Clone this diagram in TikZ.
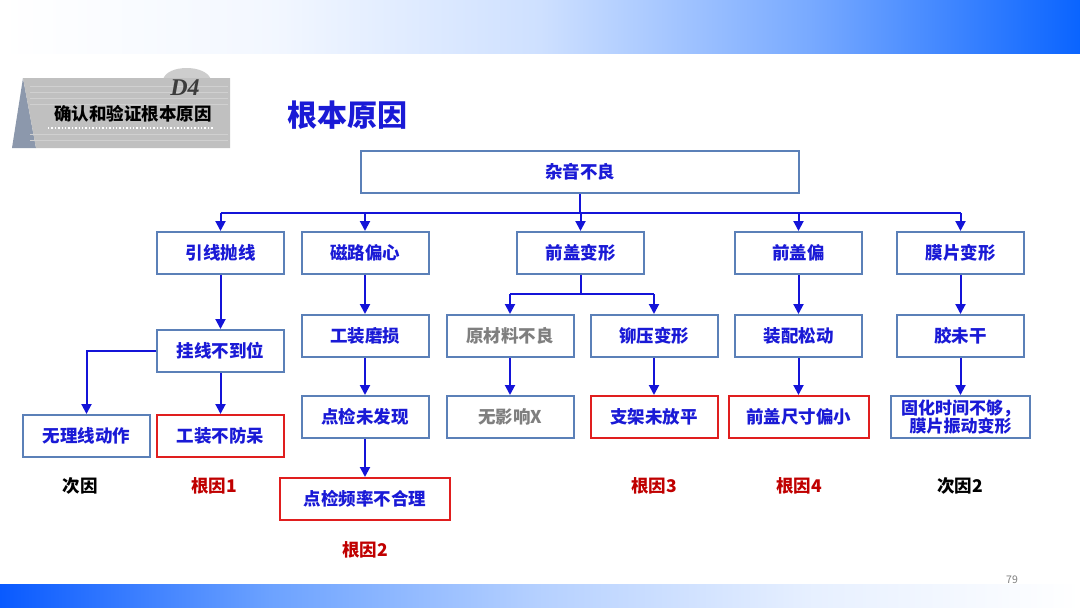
\documentclass[tikz,border=0pt]{standalone}
\usepackage{fontspec}
\setmainfont{Noto Sans CJK SC}
\newfontfamily\serifd{Liberation Serif}
\usetikzlibrary{arrows.meta}
\definecolor{boxb}{HTML}{5B80B8}
\definecolor{txtb}{HTML}{1A1AD6}
\definecolor{arrb}{HTML}{1414D8}
\definecolor{redb}{HTML}{E01E1E}
\definecolor{redl}{HTML}{C00000}
\definecolor{grayt}{HTML}{7F7F7F}
\definecolor{hdrblue}{HTML}{0A64FF}
\pgfdeclarehorizontalshading{hdr}{100bp}{color(0bp)=(white);color(25bp)=(white);color(37.5bp)=(white!95!hdrblue);color(50bp)=(white!80!hdrblue);color(62.5bp)=(white!45!hdrblue);color(75bp)=(hdrblue);color(100bp)=(hdrblue)}
\pgfdeclarehorizontalshading{ftr}{100bp}{color(0bp)=(hdrblue);color(25bp)=(hdrblue!90!blue);color(37.5bp)=(white!40!hdrblue);color(50bp)=(white!70!hdrblue);color(62.5bp)=(white!90!hdrblue);color(75bp)=(white);color(100bp)=(white)}
\tikzset{
  bx/.style={draw=boxb, line width=2pt, fill=white, minimum width=127pt, minimum height=42pt, inner sep=2pt, align=center, text=txtb, font=\bfseries\fontsize{17.5}{19}\selectfont},
  rbx/.style={bx, draw=redb},
  gbx/.style={bx, text=grayt},
  arr/.style={draw=arrb, line width=2pt, -{Triangle[length=10pt,width=10pt]}},
  ln/.style={draw=arrb, line width=2pt},
  lab/.style={font=\bfseries\fontsize{17.5}{19}\selectfont}
}
\begin{document}
\begin{tikzpicture}[x=1pt,y=-1pt]
\useasboundingbox (0,0) rectangle (1080,608);
\fill[white] (0,0) rectangle (1080,608);
% header and footer bars
\shade[shading=hdr] (0,0) rectangle (1080,53);
\shade[shading=ftr] (0,584) rectangle (1080,608);
\node[text=grayt, font=\fontsize{10.5}{12}\selectfont] (pg) at (1012,580) {79};
% D4 badge
\fill[color={rgb,255:red,140;green,152;blue,172}] (12,148) -- (23,78) -- (36,148) -- cycle;
\fill[color={rgb,255:red,205;green,205;blue,205}] (163,80) .. controls (166,64) and (207,64) .. (211,80) -- cycle;
\fill[color={rgb,255:red,192;green,192;blue,192}] (23,78) -- (230,78) -- (230,148) -- (36,148) -- cycle;
\foreach \yy in {86,92,98,104,134,140}{\draw[color={rgb,255:red,208;green,208;blue,208}, line width=0.8pt] (30,\yy) -- (228,\yy);}
\draw[white, line width=1.4pt, dotted] (48,128) -- (213,128);
\node[font=\serifd\bfseries\itshape\fontsize{24}{26}\selectfont, text={rgb,255:red,60;green,60;blue,60}] (d4) at (185,88) {D4};
\node[font=\bfseries\fontsize{17.5}{19}\selectfont] (bt) at (133,114) {确认和验证根本原因};
% title
\node[text=txtb, font=\bfseries\fontsize{30}{33}\selectfont] (title) at (347,115) {根本原因};
% boxes
\node[bx, minimum width=438pt] (top) at (580,172) {杂音不良};
\node[bx] (a1) at (220.5,253) {引线抛线};
\node[bx] (a2) at (365,253) {磁路偏心};
\node[bx] (a3) at (580.5,253) {前盖变形};
\node[bx] (a4) at (798.5,253) {前盖偏};
\node[bx] (a5) at (960.5,253) {膜片变形};
\node[bx] (b1) at (220.5,351) {挂线不到位};
\node[bx] (b2) at (365,336) {工装磨损};
\node[gbx] (b3) at (510,336) {原材料不良};
\node[bx] (b4) at (654,336) {铆压变形};
\node[bx] (b5) at (798.5,336) {装配松动};
\node[bx] (b6) at (960.5,336) {胶未干};
\node[bx] (c1) at (86.5,436) {无理线动作};
\node[rbx] (c2) at (220.5,436) {工装不防呆};
\node[bx] (c3) at (365,417) {点检未发现};
\node[gbx] (c4) at (510,417) {无影响X};
\node[rbx] (c5) at (654,417) {支架未放平};
\node[rbx, minimum width=140pt] (c6) at (798.5,417) {前盖尺寸偏小};
\node[bx, minimum width=139pt, font=\bfseries\fontsize{17}{18.5}\selectfont] (c7) at (960.5,417) {固化时间不够，\\膜片振动变形};
\node[rbx, minimum width=170pt] (d1) at (365,499) {点检频率不合理};
% labels
\node[lab] (l1) at (80,486) {次因};
\node[lab, text=redl] (l2) at (214,486) {根因1};
\node[lab, text=redl] (l3) at (654,486) {根因3};
\node[lab, text=redl] (l4) at (799,486) {根因4};
\node[lab] (l5) at (960,486) {次因2};
\node[lab, text=redl] (l6) at (365,550) {根因2};
% connectors
\coordinate (bus) at (580,213);
\draw[ln] (top.south) -- (top.south |- bus);
\draw[ln] (a1.north |- bus) -- (a5.north |- bus);
\foreach \n in {a1,a2,a3,a4,a5}{\draw[arr] (\n.north |- bus) -- (\n.north);}
\draw[arr] (a1) -- (b1);
\draw[arr] (a2) -- (b2);
\draw[arr] (b2) -- (c3);
\draw[arr] (c3) -- (d1);
\draw[arr] (b1) -- (c2);
\draw[arr] (b1.west) -| (c1.north);
\coordinate (bus2) at (580,294);
\draw[ln] (a3.south) -- (a3.south |- bus2);
\draw[ln] (b3.north |- bus2) -- (b4.north |- bus2);
\draw[arr] (b3.north |- bus2) -- (b3.north);
\draw[arr] (b4.north |- bus2) -- (b4.north);
\draw[arr] (b3) -- (c4);
\draw[arr] (b4) -- (c5);
\draw[arr] (a4) -- (b5);
\draw[arr] (b5) -- (c6);
\draw[arr] (a5) -- (b6);
\draw[arr] (b6) -- (c7);
\end{tikzpicture}
\end{document}
